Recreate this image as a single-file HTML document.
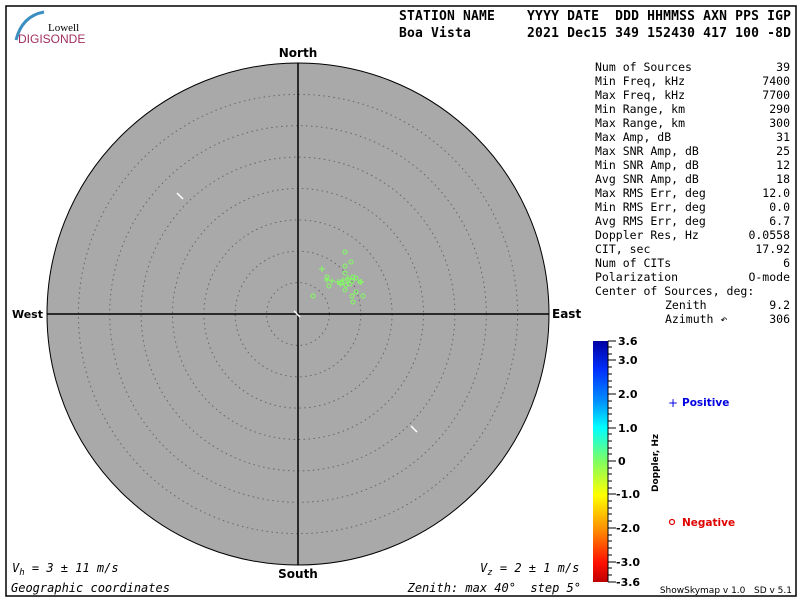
<!DOCTYPE html>
<html><head><meta charset="utf-8"><style>
html,body{margin:0;padding:0;background:#fff;}
svg{display:block;}
text{white-space:pre;}
.m{font-family:"DejaVu Sans Mono","Liberation Mono",monospace;font-size:11.5px;fill:#000;}
.h{font-family:"DejaVu Sans Mono","Liberation Mono",monospace;font-size:13px;font-weight:bold;fill:#000;}
.b{font-family:"DejaVu Sans","Liberation Sans",sans-serif;font-size:12px;font-weight:bold;fill:#000;}
.cb{font-family:"DejaVu Sans","Liberation Sans",sans-serif;font-size:11px;font-weight:bold;fill:#000;}
.i{font-family:"DejaVu Sans Mono","Liberation Mono",monospace;font-size:12px;font-style:italic;fill:#000;}
</style></head><body>
<svg width="800" height="600" viewBox="0 0 800 600" xmlns="http://www.w3.org/2000/svg" xml:space="preserve">
<defs>
<linearGradient id="g" x1="0" y1="0" x2="0" y2="1">
<stop offset="0" stop-color="#0000a0"/>
<stop offset="0.12" stop-color="#0030ff"/>
<stop offset="0.25" stop-color="#0090ff"/>
<stop offset="0.36" stop-color="#00ffff"/>
<stop offset="0.5" stop-color="#80ff60"/>
<stop offset="0.64" stop-color="#ffff00"/>
<stop offset="0.78" stop-color="#ff9000"/>
<stop offset="0.92" stop-color="#ff1000"/>
<stop offset="1" stop-color="#c00000"/>
</linearGradient>
</defs>
<rect x="6" y="6" width="790" height="590" fill="#fff" stroke="#000" stroke-width="1.5"/>
<path d="M16 40 Q22 16 44 12" stroke="#3a8fc0" stroke-width="3" fill="none"/>
<text x="48" y="31" font-family="Liberation Serif,serif" font-size="11" fill="#000">Lowell</text>
<text x="18" y="43" font-family="Liberation Sans,sans-serif" font-size="12" fill="#a03060">DIGISONDE</text>
<text x="399" y="20" class="h" textLength="392" lengthAdjust="spacing">STATION NAME    YYYY DATE  DDD HHMMSS AXN PPS IGP</text>
<text x="399" y="37" class="h" textLength="392" lengthAdjust="spacing">Boa Vista       2021 Dec15 349 152430 417 100 -8D</text>
<circle cx="298" cy="314" r="251" fill="#a9a9a9" stroke="#000" stroke-width="1"/>
<g fill="none" stroke="#666" stroke-width="1" stroke-dasharray="1.5,3.5">
<circle cx="298" cy="314" r="31.4"/><circle cx="298" cy="314" r="62.8"/><circle cx="298" cy="314" r="94.1"/><circle cx="298" cy="314" r="125.5"/><circle cx="298" cy="314" r="156.9"/><circle cx="298" cy="314" r="188.3"/><circle cx="298" cy="314" r="219.6"/>
</g>
<line x1="47" y1="314" x2="549" y2="314" stroke="#000" stroke-width="1.5"/>
<line x1="298" y1="63" x2="298" y2="565" stroke="#000" stroke-width="1.5"/>
<path d="M177 193 l6 6" stroke="#fff" stroke-width="1.5"/>
<path d="M294 311 l6 6" stroke="#fff" stroke-width="1.5"/>
<path d="M411 426 l6 6" stroke="#fff" stroke-width="1.5"/>
<g fill="none" stroke="#80ff60" stroke-width="1">
<circle cx="345" cy="252" r="2"/><circle cx="351" cy="262" r="2"/><circle cx="345" cy="266" r="2"/><circle cx="327" cy="277" r="2"/><circle cx="329" cy="286" r="2"/><circle cx="345" cy="273" r="2"/><circle cx="353" cy="277" r="2"/><circle cx="356" cy="278" r="2"/><circle cx="360" cy="282" r="2"/><circle cx="345" cy="290" r="2"/><circle cx="356" cy="292" r="2"/><circle cx="363" cy="296" r="2"/><circle cx="352" cy="296" r="2"/><circle cx="353" cy="302" r="2"/><circle cx="313" cy="296" r="2"/><circle cx="348" cy="280" r="2"/><circle cx="350" cy="284" r="2"/><circle cx="346" cy="285" r="2"/><circle cx="352" cy="281" r="2"/><circle cx="342" cy="283" r="2"/>
<path d="M319 269h6M322 266v6M324 280h6M327 277v6M329 281h6M332 278v6M335 282h6M338 279v6M340 280h6M343 277v6M345 278h6M348 275v6M358 282h6M361 279v6M337 284h6M340 281v6"/>
</g>
<text x="298" y="57" class="b" text-anchor="middle">North</text>
<text x="298" y="578" class="b" text-anchor="middle">South</text>
<text x="43" y="318" class="b" text-anchor="end" style="font-size:11px">West</text>
<text x="552" y="318" class="b">East</text>
<text x="12" y="572" class="i">V<tspan dy="3" font-size="9">h</tspan><tspan dy="-3"> = 3 ± 11 m/s</tspan></text>
<text x="11" y="592" class="i">Geographic coordinates</text>
<text x="480" y="572" class="i">V<tspan dy="3" font-size="9">z</tspan><tspan dy="-3"> = 2 ± 1 m/s</tspan></text>
<text x="581" y="592" class="i" text-anchor="end">Zenith: max 40°  step 5°</text>
<g class="m">
<text x="595" y="71">Num of Sources</text><text x="790" y="71" text-anchor="end">39</text>
<text x="595" y="85">Min Freq, kHz</text><text x="790" y="85" text-anchor="end">7400</text>
<text x="595" y="99">Max Freq, kHz</text><text x="790" y="99" text-anchor="end">7700</text>
<text x="595" y="113">Min Range, km</text><text x="790" y="113" text-anchor="end">290</text>
<text x="595" y="127">Max Range, km</text><text x="790" y="127" text-anchor="end">300</text>
<text x="595" y="141">Max Amp, dB</text><text x="790" y="141" text-anchor="end">31</text>
<text x="595" y="155">Max SNR Amp, dB</text><text x="790" y="155" text-anchor="end">25</text>
<text x="595" y="169">Min SNR Amp, dB</text><text x="790" y="169" text-anchor="end">12</text>
<text x="595" y="183">Avg SNR Amp, dB</text><text x="790" y="183" text-anchor="end">18</text>
<text x="595" y="197">Max RMS Err, deg</text><text x="790" y="197" text-anchor="end">12.0</text>
<text x="595" y="211">Min RMS Err, deg</text><text x="790" y="211" text-anchor="end">0.0</text>
<text x="595" y="225">Avg RMS Err, deg</text><text x="790" y="225" text-anchor="end">6.7</text>
<text x="595" y="239">Doppler Res, Hz</text><text x="790" y="239" text-anchor="end">0.0558</text>
<text x="595" y="253">CIT, sec</text><text x="790" y="253" text-anchor="end">17.92</text>
<text x="595" y="267">Num of CITs</text><text x="790" y="267" text-anchor="end">6</text>
<text x="595" y="281">Polarization</text><text x="790" y="281" text-anchor="end">O-mode</text>
<text x="595" y="295">Center of Sources, deg:</text>
<text x="665" y="309">Zenith</text><text x="790" y="309" text-anchor="end">9.2</text>
<text x="665" y="323">Azimuth ↶</text><text x="790" y="323" text-anchor="end">306</text>
</g>
<rect x="593" y="341" width="15" height="241" fill="url(#g)"/>
<g stroke="#000" stroke-width="1">
<line x1="608" y1="341" x2="608" y2="582"/>
<path d="M608 341h8M608 360h8M608 394h8M608 428h8M608 461h8M608 494h8M608 528h8M608 562h8M608 582h8"/>
<path d="M608 347h4M608 354h4M608 367h4M608 374h4M608 381h4M608 387h4M608 401h4M608 408h4M608 414h4M608 421h4M608 434h4M608 441h4M608 448h4M608 454h4M608 468h4M608 474h4M608 481h4M608 488h4M608 501h4M608 508h4M608 514h4M608 521h4M608 535h4M608 541h4M608 548h4M608 555h4M608 568h4M608 575h4"/>
</g>
<g class="cb">
<text x="618" y="345">3.6</text><text x="618" y="364">3.0</text><text x="618" y="398">2.0</text><text x="618" y="432">1.0</text><text x="618" y="465">0</text><text x="616" y="498">-1.0</text><text x="616" y="532">-2.0</text><text x="616" y="566">-3.0</text><text x="616" y="586">-3.6</text>
</g>
<text transform="translate(658,492) rotate(-90)" font-family="DejaVu Sans,Liberation Sans,sans-serif" font-size="9" font-weight="bold">Doppler, Hz</text>
<text x="668" y="407" font-family="DejaVu Sans,sans-serif" font-size="12" fill="#0000e0">+</text>
<text x="682" y="406" font-family="DejaVu Sans,sans-serif" font-size="10.5" font-weight="bold" fill="#0000e0">Positive</text>
<circle cx="672" cy="522" r="2.5" fill="none" stroke="#e00000" stroke-width="1.2"/>
<text x="682" y="526" font-family="DejaVu Sans,sans-serif" font-size="10.5" font-weight="bold" fill="#e00000">Negative</text>
<text x="792" y="593" text-anchor="end" font-family="DejaVu Sans,sans-serif" font-size="9" fill="#000">ShowSkymap v 1.0   SD v 5.1</text>
</svg>
</body></html>
